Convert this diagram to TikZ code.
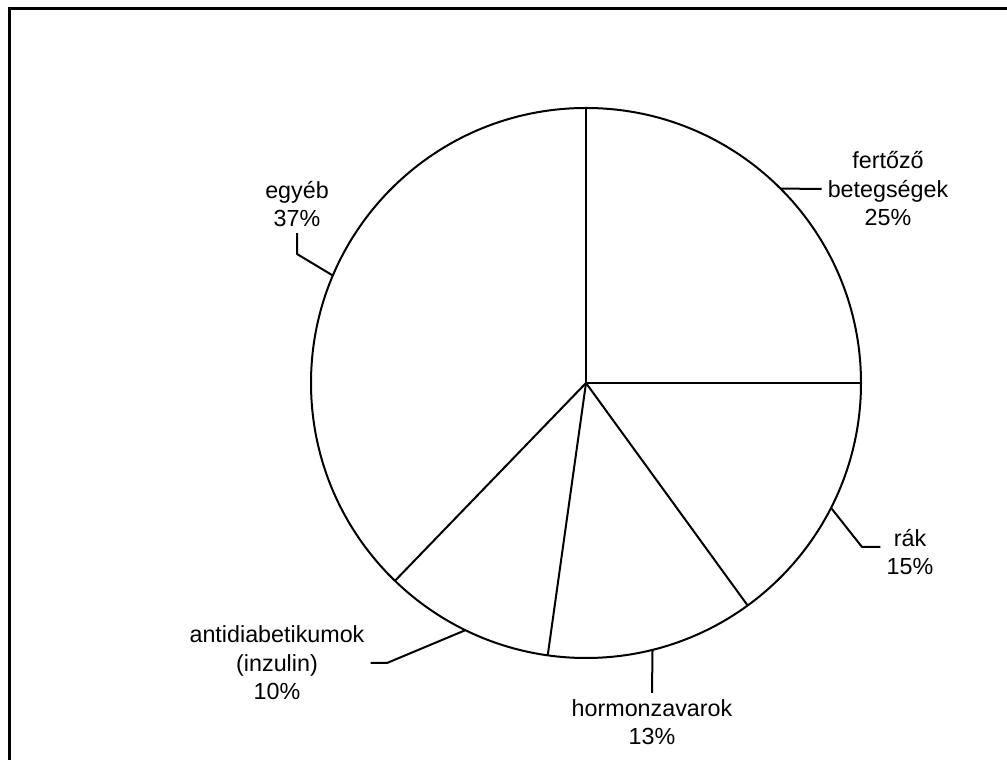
\documentclass[tikz,border=0pt]{standalone}
\usepackage{fontspec}
\setmainfont{Liberation Sans}
\begin{document}
\begin{tikzpicture}[x=1pt,y=1pt,
  lab/.style={align=center, font=\fontsize{23.3}{28.5}\selectfont, inner sep=6pt},
  ln/.style={line width=2pt, line join=round, line cap=butt},
]
\useasboundingbox (0,0) rectangle (1007,760);
\draw[line width=3pt] (9.3,0) -- (9.3,751) -- (1007,751);
\node[circle, draw, line width=2pt, minimum size=550pt, inner sep=0pt, outer sep=0pt] (pie) at (586,377) {};
\foreach \a in {90,0,-54,-98.9,-134.9} \draw[ln] (pie.center) -- (pie.\a);

\node[lab] (fert) at (888,571) {fertőző\\betegségek\\25\%};
\node[lab] (egyeb) at (297,556) {egyéb\\37\%};
\node[lab] (rak) at (910,208) {rák\\15\%};
\node[lab] (horm) at (652,38) {hormonzavarok\\13\%};
\node[lab] (anti) at (277,97) {antidiabetikumok\\(inzulin)\\10\%};

\coordinate (ek) at (297,506);
\coordinate (rk) at (862,213);
\coordinate (ak) at (387,97);

\draw[ln] (pie.45) -- (fert.west);
\draw[ln] (pie.157.5) -- (ek) -- (egyeb.south);
\draw[ln] (pie.-27) -- (rk) -- (rk -| rak.west);
\draw[ln] (pie.-76.45) -- (horm.north);
\draw[ln] (pie.-116.9) -- (ak) -- (ak -| anti.east);
\end{tikzpicture}
\end{document}
